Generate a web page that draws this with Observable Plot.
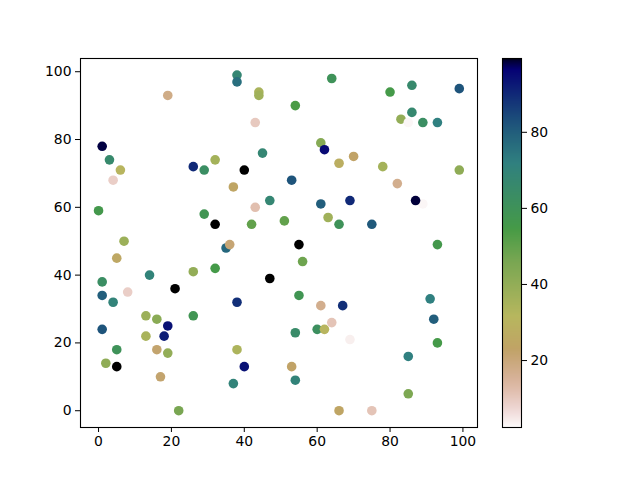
<!DOCTYPE html>
<html>
<head>
<meta charset="utf-8">
<script src="https://cdn.jsdelivr.net/npm/d3@7"></script>
<script src="https://cdn.jsdelivr.net/npm/@observablehq/plot@0.6"></script>
<style>
body { margin: 0; background: white; }
#wrap { position: relative; width: 640px; height: 480px; }
#wrap svg { position: absolute; left: 0; top: 0; }
</style>
</head>
<body>
<div id="wrap"></div>
<script>
const xs = [0,1,3,4,6,7,5,1,1,4,8,1,2,5,5,13,16,14,13,18,19,16,19,17,22,21,26,26,19,26,29,32,29,32,32,35,36,37,38,38,44,44,43,40,45,43,42,47,38,38,37,40,47,51,54,53,55,56,55,54,54,53,60,62,61,64,67,69,66,75,64,61,62,61,63,66,66,69,70,75,78,80,82,83,85,86,86,89,93,89,87,99,99,93,91,92,93,85,85];
const ys = [59,78,74,68,71,50,45,38,34,32,35,24,14,13,18,28,27,40,22,22,25,18,17,10,0,36,41,28,93,72,71,74,58,55,42,48,49,66,99,97,94,93,85,71,76,60,55,62,32,18,8,13,39,56,90,68,49,44,34,23,9,13,24,24,31,26,31,21,0,0,98,79,77,61,57,55,73,62,75,55,72,94,67,86,85,96,88,85,85,61,62,95,71,49,33,27,20,16,5];
const cs = [56,98.3,66,9,31,38,25,63,80,70,9,82,41,99.4,60,38,42,70,35,92,94,22,40,22,46,99.4,40,58,18,90,63,36,58,99.4,55,78,21,24,68,76,35,37,10,99.4,68,12,50,68,89,34,70,94,99.4,50,54,82,99.4,48,58,65,70,23,62,31,17,11,89,4,24,11,60,43,95,80,37,60,28,90,23,81,36,55,17,40,3,66,67,63,72,3,98.6,82,41,56,72,80,55,72,45];
const xTicks = [0,20,40,60,80,100];
const yTicks = [0,20,40,60,80,100];
const cTicks = [20,40,60,80];

const data = xs.map((x, i) => ({x, y: ys[i], c: cs[i]}));

// matplotlib gist_earth segment data, reversed
const R = [[0,0],[0.2824,0.1882],[0.4588,0.2714],[0.5490,0.4719],[0.6980,0.7176],[0.7882,0.7553],[1,0.9922]];
const G = [[0,0],[0.0275,0],[0.1098,0.1893],[0.1647,0.3035],[0.2078,0.3841],[0.2824,0.5020],[0.5216,0.6397],[0.6980,0.7171],[0.7882,0.6392],[0.7922,0.6413],[0.8,0.6447],[0.8078,0.6481],[0.8157,0.6549],[0.8667,0.6991],[0.8745,0.7103],[0.8824,0.7216],[0.8902,0.7323],[0.8980,0.7430],[0.9412,0.8275],[0.9569,0.8635],[0.9647,0.8816],[0.9961,0.9733],[1,0.9843]];
const B = [[0,0],[0.0039,0.1684],[0.0078,0.2212],[0.0275,0.4329],[0.0314,0.4549],[0.2824,0.5004],[0.4667,0.2748],[0.5451,0.3205],[0.7843,0.3961],[0.8941,0.6651],[1,0.9843]];
function seg(s, t) {
  for (let i = 1; i < s.length; i++) {
    if (t <= s[i][0]) {
      const [t0, v0] = s[i-1], [t1, v1] = s[i];
      return v0 + (v1 - v0) * (t - t0) / (t1 - t0);
    }
  }
  return s[s.length-1][1];
}
function gistEarthR(t) {
  t = 1 - Math.max(0, Math.min(1, t));
  return d3.rgb(seg(R,t)*255, seg(G,t)*255, seg(B,t)*255).formatRgb();
}

const cDomain = [2.4, 99.4];
const font = {fontFamily: "DejaVu Sans", fontSize: "13.9px", color: "black", background: "transparent"};

const main = Plot.plot({
  width: 640, height: 480,
  marginLeft: 80, marginRight: 163, marginTop: 58, marginBottom: 53,
  style: font,
  x: {domain: [-4.95, 104], label: null},
  y: {domain: [-4.95, 103.9], label: null},
  color: {type: "linear", domain: cDomain, interpolate: gistEarthR},
  marks: [
    Plot.dot(data, {x: "x", y: "y", fill: "c", r: 4.8}),
    Plot.frame({stroke: "black", strokeWidth: 1.1}),
    Plot.axisX({ticks: xTicks, tickSize: 5, tickPadding: 4, label: null, tickFormat: d => d}),
    Plot.axisY({ticks: yTicks, tickSize: 5, tickPadding: 4, label: null, tickFormat: d => d})
  ]
});

const bar = Plot.plot({
  width: 640, height: 480,
  marginLeft: 502, marginRight: 119, marginTop: 58, marginBottom: 53,
  style: font,
  x: {domain: [0, 1], axis: null},
  y: {domain: cDomain, label: null},
  color: {type: "linear", domain: cDomain, interpolate: gistEarthR},
  marks: [
    Plot.raster({fill: (x, y) => y, x1: 0, x2: 1, y1: cDomain[0], y2: cDomain[1], pixelSize: 1}),
    Plot.frame({stroke: "black", strokeWidth: 1.1}),
    Plot.axisY({anchor: "right", ticks: cTicks, tickSize: 5, tickPadding: 4, label: null, tickFormat: d => d})
  ]
});

document.getElementById("wrap").append(main, bar);
</script>
</body>
</html>
